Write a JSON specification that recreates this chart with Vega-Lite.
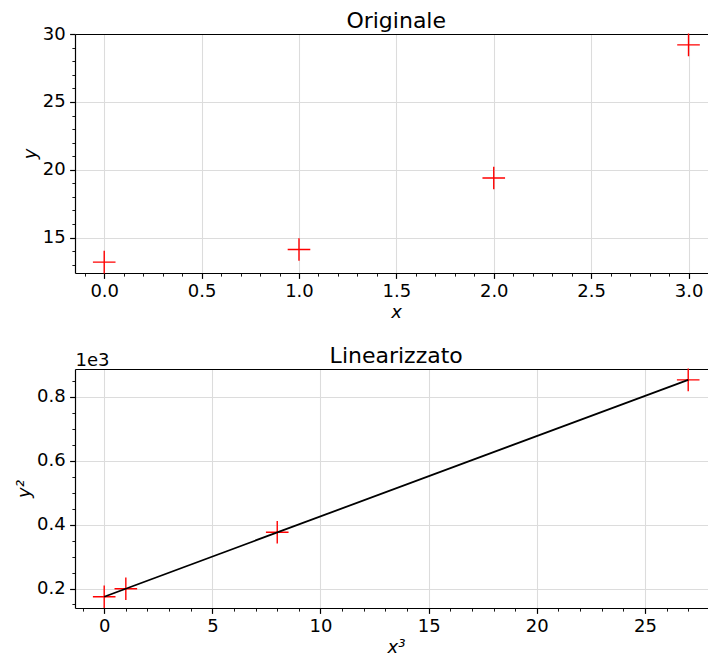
{
  "$schema": "https://vega.github.io/schema/vega-lite/v6.json",
  "padding": {"left": 15, "top": 9, "right": 0, "bottom": 0},
  "bounds": "flush",
  "spacing": 96,
  "datasets": {
    "pts": [
      {"x": 0, "y": 13.19, "x3": 0, "y2": 174},
      {"x": 1, "y": 14.12, "x3": 1, "y2": 199.4},
      {"x": 2, "y": 19.39, "x3": 8, "y2": 376},
      {"x": 3, "y": 29.21, "x3": 27, "y2": 853}
    ],
    "fit": [
      {"x3": 0, "fit": 174.3},
      {"x3": 27, "fit": 853.2}
    ]
  },
  "vconcat": [
    {
      "width": 633,
      "height": 239,
      "title": {"text": "Originale", "offset": -7.6, "dx": 4.7},
      "data": {"name": "pts"},
      "resolve": {"axis": {"x": "independent", "y": "independent"}},
      "layer": [
        {
          "mark": {"type": "point", "shape": "M-1,0H1M0,-1V1", "size": 511, "filled": false, "stroke": "red", "strokeWidth": 1.4, "opacity": 1},
          "encoding": {
            "x": {
              "field": "x", "type": "quantitative",
              "scale": {"domain": [-0.15, 3.1], "nice": false, "zero": false},
              "axis": {
                "title": "x", "titleX": 321, "titlePadding": 2.5,
                "values": [-0.1,0,0.1,0.2,0.3,0.4,0.5,0.6,0.7,0.8,0.9,1,1.1,1.2,1.3,1.4,1.5,1.6,1.7,1.8,1.9,2,2.1,2.2,2.3,2.4,2.5,2.6,2.7,2.8,2.9,3,3.1],
                "labelExpr": "abs(datum.value*2-round(datum.value*2))<0.001 ? format(datum.value,'.1f') : ''",
                "tickSize": {"condition": {"test": "abs(datum.value*2-round(datum.value*2))<0.001", "value": 5.4}, "value": 3.1},
                "tickWidth": {"condition": {"test": "abs(datum.value*2-round(datum.value*2))<0.001", "value": 1.2}, "value": 0.9},
                "gridOpacity": {"condition": {"test": "abs(datum.value*2-round(datum.value*2))<0.001", "value": 1}, "value": 0}
              }
            },
            "y": {
              "field": "y", "type": "quantitative",
              "scale": {"domain": [12.39, 30.01], "nice": false, "zero": false},
              "axis": {
                "title": "y", "titlePadding": 3,
                "values": [13,14,15,16,17,18,19,20,21,22,23,24,25,26,27,28,29,30],
                "labelExpr": "datum.value % 5 == 0 ? format(datum.value,'d') : ''",
                "tickSize": {"condition": {"test": "datum.value % 5 == 0", "value": 5.4}, "value": 3.1},
                "tickWidth": {"condition": {"test": "datum.value % 5 == 0", "value": 1.2}, "value": 0.9},
                "gridOpacity": {"condition": {"test": "datum.value % 5 == 0", "value": 1}, "value": 0}
              }
            }
          }
        },
        {
          "mark": {"type": "point", "opacity": 0},
          "encoding": {
            "x": {"field": "x", "type": "quantitative", "axis": {"orient": "top", "labels": false, "ticks": false, "grid": false, "title": null}},
            "y": {"field": "y", "type": "quantitative", "axis": null}
          }
        }
      ]
    },
    {
      "width": 633,
      "height": 239,
      "title": {"text": "Linearizzato", "offset": -16.3, "dx": 4.7},
      "resolve": {"axis": {"x": "independent", "y": "independent"}},
      "layer": [
        {
          "data": {"name": "pts"},
          "mark": {"type": "point", "shape": "M-1,0H1M0,-1V1", "size": 511, "filled": false, "stroke": "red", "strokeWidth": 1.4, "opacity": 1},
          "encoding": {
            "x": {
              "field": "x3", "type": "quantitative",
              "scale": {"domain": [-1.35, 27.915], "nice": false, "zero": false},
              "axis": {
                "title": "x³", "titleX": 321, "titlePadding": 2.5,
                "values": [-1,0,1,2,3,4,5,6,7,8,9,10,11,12,13,14,15,16,17,18,19,20,21,22,23,24,25,26,27],
                "labelExpr": "datum.value % 5 == 0 ? format(datum.value,'d') : ''",
                "tickSize": {"condition": {"test": "datum.value % 5 == 0", "value": 5.4}, "value": 3.1},
                "tickWidth": {"condition": {"test": "datum.value % 5 == 0", "value": 1.2}, "value": 0.9},
                "gridOpacity": {"condition": {"test": "datum.value % 5 == 0", "value": 1}, "value": 0}
              }
            },
            "y": {
              "field": "y2", "type": "quantitative",
              "scale": {"domain": [139, 887], "nice": false, "zero": false},
              "axis": {
                "title": "y²", "titlePadding": 3,
                "values": [150,200,250,300,350,400,450,500,550,600,650,700,750,800,850],
                "labelExpr": "datum.value % 200 == 0 ? format(datum.value/1000,'.1f') : ''",
                "tickSize": {"condition": {"test": "datum.value % 200 == 0", "value": 5.4}, "value": 3.1},
                "tickWidth": {"condition": {"test": "datum.value % 200 == 0", "value": 1.2}, "value": 0.9},
                "gridOpacity": {"condition": {"test": "datum.value % 200 == 0", "value": 1}, "value": 0}
              }
            }
          }
        },
        {
          "data": {"name": "fit"},
          "mark": {"type": "line", "color": "black", "strokeWidth": 1.8},
          "encoding": {
            "x": {"field": "x3", "type": "quantitative", "axis": {"orient": "top", "labels": false, "ticks": false, "grid": false, "title": "1e3", "titleAnchor": "start", "titleAlign": "left", "titleBaseline": "alphabetic", "titleX": 0, "titleY": -3.3, "titleFontStyle": "normal", "titleAngle": 0}},
            "y": {"field": "fit", "type": "quantitative", "axis": null}
          }
        }
      ]
    }
  ],
  "config": {
    "font": "DejaVu Sans",
    "view": {"stroke": null},
    "axis": {
      "labelFont": "DejaVu Sans", "labelFontSize": 18, "labelColor": "black",
      "titleFont": "DejaVu Sans", "titleFontSize": 18, "titleFontWeight": "normal", "titleColor": "black", "titleFontStyle": "italic",
      "domainColor": "black", "domainWidth": 1.2, "tickColor": "black",
      "gridColor": "#dcdcdc", "gridWidth": 1.1,
      "labelPadding": 4.5, "labelFlush": false, "labelOverlap": false, "labelBound": false
    },
    "title": {"font": "DejaVu Sans", "fontSize": 22, "fontWeight": "normal", "color": "black", "baseline": "alphabetic", "anchor": "middle"}
  }
}
